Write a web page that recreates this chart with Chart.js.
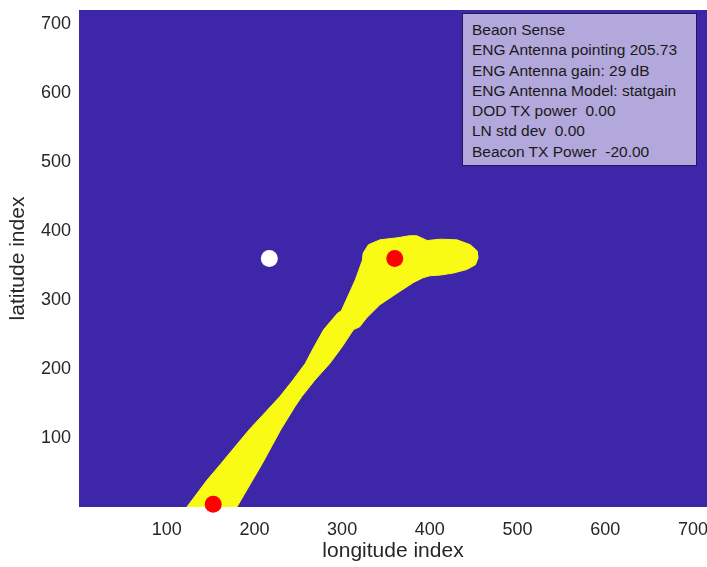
<!DOCTYPE html>
<html>
<head>
<meta charset="utf-8">
<script src="https://cdn.jsdelivr.net/npm/chart.js@4/dist/chart.umd.min.js"></script>
<style>
  html, body { margin: 0; padding: 0; background: #ffffff; overflow: hidden; }
  #wrap { position: relative; width: 707px; height: 567px; }
  #info {
    position: absolute; left: 462px; top: 13px; width: 235px; height: 153px;
    box-sizing: border-box; background: #B2A8DC; border: 1px solid #1F1A55;
    font-family: "Liberation Sans", Arial, sans-serif; font-size: 15.5px; color: #1a1a1a;
    line-height: 20.3px; padding: 6px 0 0 9px; white-space: pre;
  }
</style>
</head>
<body>
<div id="wrap">
  <canvas id="c" width="707" height="567"></canvas>
  <div id="info"></div>
</div>
<script>
// ---- data ----
const xTicks = [100, 200, 300, 400, 500, 600, 700];
const yTicks = [100, 200, 300, 400, 500, 600, 700];

// outline of the yellow region (longitude index, latitude index)
const regionX = [123, 146, 162, 194, 213, 229, 244, 258, 268, 279, 295, 299, 315, 323, 324, 330, 343, 363, 377, 385, 397, 412, 431, 446, 454, 455, 452, 442, 427, 412, 400, 392, 381, 363, 343, 328, 320, 313, 300, 286, 269, 254, 246, 230, 209, 180, 123];
const regionY = [0, 39, 63, 112, 138, 160, 184, 208, 232, 257, 281, 284, 329, 357, 368, 380, 387, 390, 393, 393, 386, 388, 387, 380, 371, 361, 351, 344, 339, 336, 335, 332, 325, 310, 293, 274, 261, 257, 232, 208, 184, 160, 145, 112, 63, 0, 0];

// markers
const redX = [360, 153];
const redY = [360, 4];
const whiteX = [217];
const whiteY = [360];

const infoLines = [
  'Beaon Sense',
  'ENG Antenna pointing 205.73',
  'ENG Antenna gain: 29 dB',
  'ENG Antenna Model: statgain',
  'DOD TX power  0.00',
  'LN std dev  0.00',
  'Beacon TX Power  -20.00'
];

const xTitle = 'longitude index';
const yTitle = 'latitude index';

// ---- build ----
const info = document.getElementById('info');
infoLines.forEach(t => { const d = document.createElement('div'); d.textContent = t; info.appendChild(d); });

const FONT = "'Liberation Sans', Arial, Helvetica, sans-serif";
const TXT = '#262626';

const bgPlugin = {
  id: 'bg',
  beforeDatasetsDraw(chart) {
    const { ctx, chartArea: a } = chart;
    ctx.save();
    ctx.fillStyle = '#3E26A8';
    ctx.fillRect(a.left, a.top, a.right - a.left, a.bottom - a.top);
    ctx.restore();
  }
};

const toPts = (xs, ys) => xs.map((x, i) => ({ x: x, y: ys[i] }));

new Chart(document.getElementById('c'), {
  type: 'scatter',
  data: {
    datasets: [
      {
        type: 'line',
        data: toPts(regionX, regionY),
        fill: 'shape',
        backgroundColor: '#F9FB15',
        borderColor: '#F9FB15',
        borderWidth: 1,
        pointRadius: 0,
        tension: 0,
        order: 3
      },
      {
        data: toPts(whiteX, whiteY),
        pointRadius: 8.5,
        backgroundColor: '#FFFFFF',
        borderWidth: 0,
        clip: false,
        order: 1
      },
      {
        data: toPts(redX, redY),
        pointRadius: 8.5,
        backgroundColor: '#FF0000',
        borderWidth: 0,
        clip: false,
        order: 1
      }
    ]
  },
  options: {
    responsive: false,
    animation: false,
    devicePixelRatio: 1,
    layout: { autoPadding: false, padding: { top: 10, right: 0, left: 0, bottom: 0 } },
    plugins: { legend: { display: false }, tooltip: { enabled: false } },
    scales: {
      x: {
        type: 'linear', min: 0, max: 716,
        grid: { display: false, drawTicks: false },
        border: { display: false },
        afterBuildTicks: s => { s.ticks = xTicks.map(v => ({ value: v })); },
        afterFit: s => { s.height = 60; s.paddingRight = 0; s.paddingLeft = 0; },
        ticks: { autoSkip: false, maxRotation: 0, padding: 12, color: TXT, font: { family: FONT, size: 18 } },
        title: { display: true, text: xTitle, color: TXT, font: { family: FONT, size: 21 }, padding: { top: 0, bottom: 3 } }
      },
      y: {
        type: 'linear', min: 0, max: 720,
        grid: { display: false, drawTicks: false },
        border: { display: false },
        afterBuildTicks: s => { s.ticks = yTicks.map(v => ({ value: v })); },
        afterFit: s => { s.width = 79; s.paddingTop = 0; s.paddingBottom = 0; },
        ticks: { autoSkip: false, padding: 8, color: TXT, font: { family: FONT, size: 18 } },
        title: { display: true, text: yTitle, color: TXT, font: { family: FONT, size: 21 }, padding: { top: 6, bottom: 0 } }
      }
    }
  },
  plugins: [bgPlugin]
});
</script>
</body>
</html>
